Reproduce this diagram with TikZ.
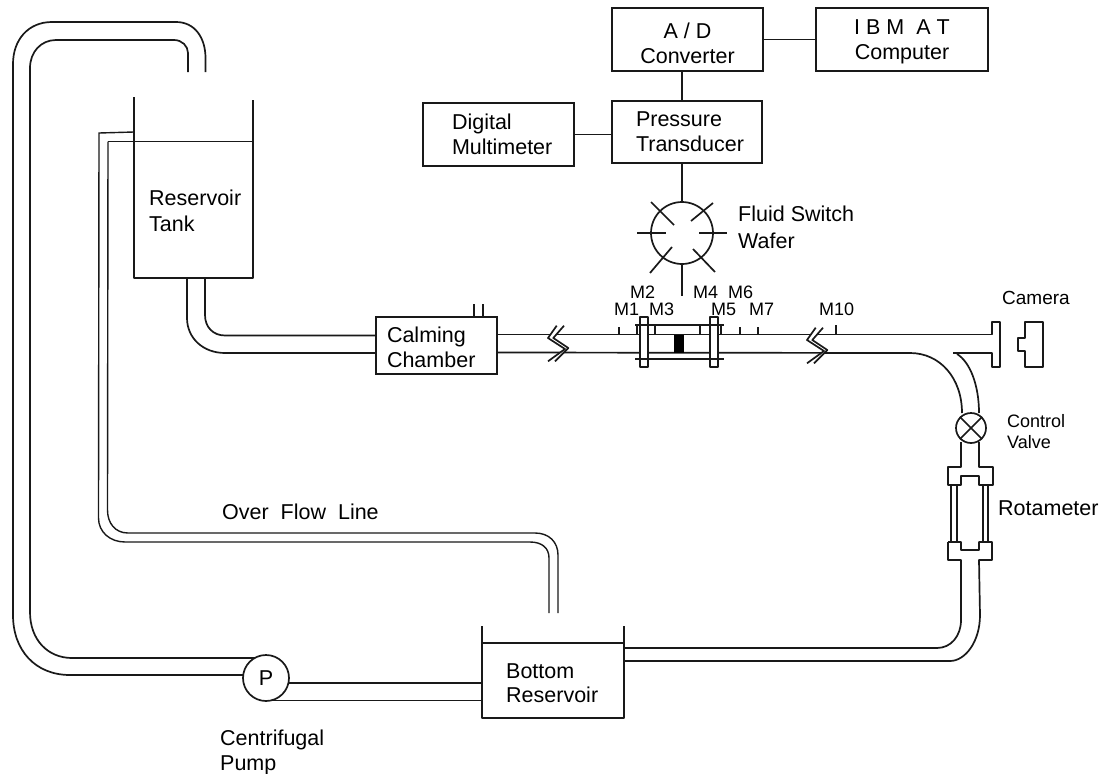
\documentclass[tikz,border=0pt]{standalone}
\usepackage{fontspec}
\setmainfont{Liberation Sans}
\newcommand{\bigtxt}{\fontsize{21.5}{25}\selectfont}
\newcommand{\midtxt}{\fontsize{18}{21}\selectfont}
\newcommand{\pipebreak}[2]{%
  \begin{scope}[shift={(#1,#2)}]
    \fill[white] (8.7,-12.3) -- (0,0) -- (17,11) -- (0,23.3) -- (7,23.3) -- (20.3,10) -- (5.3,0) -- (16,-12.3) -- cycle;
    \draw[pipe] (8.7,-12.3) -- (0,0) -- (17,11) -- (0,23.3);
    \draw[pipe] (16,-12.3) -- (5.3,0) -- (20.3,10) -- (7,23.3);
  \end{scope}}
\tikzset{
  pipe/.style={line width=1.7pt,line join=round,draw=black!90},
  thin pipe/.style={line width=1.4pt,draw=black!90},
  boxed/.style={draw=black!90,line width=1.7pt,fill=white,font=\bigtxt,minimum height=#1,inner ysep=0pt},
  lbl/.style={font=\bigtxt,anchor=base west,inner sep=0pt,align=left},
  mlbl/.style={font=\midtxt,anchor=base west,inner sep=0pt,align=left},
}
\begin{document}
\begin{tikzpicture}[x=1pt,y=-1pt]
\useasboundingbox[fill=white] (0,0) rectangle (1104,774);
% --- instrument boxes
\node[boxed=63pt,minimum width=151pt,align=center] (ad) at (687.5,39.5) {\rule{0pt}{23pt}A / D\\Converter};
\node[boxed=63pt,minimum width=172pt,align=center] (ibm) at (902,39.5) {\rule{0pt}{19pt}I B M~ A T\\Computer};
\node[boxed=62pt,inner xsep=24pt,text width=102pt,align=left] (pt) at (687,132) {Pressure\\Transducer};
\node[boxed=63pt,inner xsep=29pt,text width=93pt,align=left] (dm) at (498.5,134.5) {Digital\\Multimeter};
\node[circle,draw=black!90,line width=1.7pt,minimum size=62pt,inner sep=0pt] (sw) at (682,233) {};
\draw[pipe] (ad) -- (ibm);
\draw[pipe] (ad.south -| sw) -- (pt.north -| sw);
\draw[pipe] (dm.east) -- (dm.east -| pt.west);
\draw[pipe] (pt.south -| sw) -- (sw.north);
\coordinate (swb) at (682,296);
\draw[pipe] (sw.south) -- (swb);
\draw[pipe] (637,233) -- (666,233);
\draw[pipe] (699,233) -- (727,233);
\draw[pipe] (651,202) -- (674,225);
\draw[pipe] (713,203) -- (691,221);
\draw[pipe] (650,273) -- (672,247);
\draw[pipe] (715,272) -- (693,249);
\node[lbl] (fl1) at (738,221) {Fluid Switch};
\node[lbl] (fl2) at (738,248) {Wafer};
% --- reservoir tank
\draw[pipe] (134,97) -- (134,278) -- (253,278) -- (253,100);
\draw[pipe] (108,141.5) -- (253,141.5);
\node[lbl] (rt1) at (149,205) {Reservoir};
\node[lbl] (rt2) at (149,231) {Tank};
% --- return pipe to tank
\draw[pipe] (205.5,72) -- (205.5,58) .. controls (205.5,38) and (195,22) .. (176,22)
  -- (52,22) .. controls (28,22) and (13,40) .. (13,64) -- (13,615)
  .. controls (13,650) and (35,675) .. (70,675) -- (243,675);
\draw[pipe] (188,72) -- (188,53) .. controls (188,46) and (182,40) .. (174,40)
  -- (56,40) .. controls (41,40) and (30,52) .. (30,68) -- (30,612)
  .. controls (30,640) and (48,658) .. (72,658) -- (256,658);
% --- overflow line
\draw[thin pipe] (134,132) -- (99,133) -- (98.5,518) .. controls (98.5,532) and (110,542) .. (125,542) -- (530,542)
  .. controls (542,542) and (549,548) .. (549,558) -- (549,613);
\draw[thin pipe] (108,141.5) -- (107.5,510) .. controls (107.5,523) and (115,533) .. (128,533) -- (535,533)
  .. controls (549,533) and (558,542) .. (558,555) -- (558,613);
\node[lbl] (ofl) at (222,519) {Over\ \ Flow\ \ Line};
% --- pump
\node[circle,draw=black!90,line width=1.7pt,fill=white,minimum size=46pt,inner sep=0pt,font=\bigtxt] (pump) at (266,678) {P};
\draw[pipe] (288.5,683) -- (482,683);
\draw[pipe] (272,700.5) -- (482,700.5);
\node[lbl] (cp1) at (220,745) {Centrifugal};
\node[lbl] (cp2) at (220,770) {Pump};
% --- bottom reservoir
\draw[pipe] (482,626) -- (482,718) -- (624,718) -- (624,626);
\draw[pipe] (482,643) -- (624,643);
\node[lbl] (br1) at (506,678) {Bottom};
\node[lbl] (br2) at (506,702) {Reservoir};
% --- pipe tank to chamber
\draw[pipe] (187,278) -- (187,318) .. controls (187,338) and (203,353) .. (225,353) -- (376,353);
\draw[pipe] (205,278) -- (205,315) .. controls (205,327) and (213,335.5) .. (225,335.5) -- (376,335.5);
% --- calming chamber
\node[boxed=57pt,inner xsep=11pt,text width=99pt,align=left] (cc) at (436.5,345.5) {\rule{0pt}{19.5pt}Calming\\Chamber};
\draw[pipe] (474,304) -- (474,317);
\draw[pipe] (483,304) -- (483,317);
% --- long test pipe
\draw[pipe] (cc.east |- 0,334.5) -- (992,334.5) -- (992,322) -- (1000,322) -- (1000,367) -- (992,367) -- (992,353) -- (953,353);
\draw[pipe] (cc.east |- 0,352.5) -- (910,353) .. controls (940,353) and (962,378) .. (962,413);
\draw[pipe] (957,354) .. controls (970,362) and (979,385) .. (979,413);
\pipebreak{548}{338}
\pipebreak{807}{340}
% --- test section
\draw[pipe,fill=white] (640,317) rectangle (648,367);
\draw[pipe,fill=white] (710,317) rectangle (718,367);
\draw[pipe] (635,325) -- (724,325);
\draw[pipe] (635,359) -- (724,359);
\fill[black] (674,335) rectangle (684,353);
\foreach \tx/\ty in {619/327,637/325,655/325,700/325,721/325,740/327,758/327,836/325}
  \draw[thin pipe] (\tx,\ty) -- (\tx,334.5);
\node[mlbl] (m1) at (614,315) {M1};
\node[mlbl] (m2) at (630,298) {M2};
\node[mlbl] (m3) at (649,315) {M3};
\node[mlbl] (m4) at (693,298) {M4};
\node[mlbl] (m5) at (711,315) {M5};
\node[mlbl] (m6) at (728,298) {M6};
\node[mlbl] (m7) at (749,315) {M7};
\node[mlbl] (m10) at (819,315) {M10};
% --- camera
\draw[pipe] (1025,322) -- (1043,322) -- (1043,367) -- (1025,367) -- (1025,351) -- (1018,351) -- (1018,338) -- (1025,338) -- cycle;
\node[mlbl,font=\fontsize{19}{21}\selectfont] (cam) at (1002,304) {Camera};
% --- valve
\node[circle,draw=black!90,line width=1.7pt,fill=white,minimum size=30pt,inner sep=0pt] (valve) at (971,428) {};
\draw[pipe] (valve.45) -- (valve.225);
\draw[pipe] (valve.135) -- (valve.315);
\node[mlbl] (cv1) at (1007,427) {Control};
\node[mlbl] (cv2) at (1007,448) {Valve};
% --- rotameter
\draw[pipe] (961,442) -- (961,467) -- (948,467) -- (948,485) -- (961,485) -- (961,476) -- (979,476) -- (979,485) -- (993,485) -- (993,467) -- (979,467) -- (979,442);
\draw[thin pipe] (951,485) -- (951,542);
\draw[thin pipe] (957,485) -- (957,542);
\draw[thin pipe] (983,485) -- (983,542);
\draw[thin pipe] (988,485) -- (988,542);
\draw[pipe] (948,542) -- (961,542) -- (961,550) -- (979,550) -- (979,542) -- (992,542) -- (992,560) -- (979,560)
  -- (980,615) .. controls (980,642) and (965,661) .. (950,661) -- (624,661);
\draw[pipe] (948,542) -- (948,560) -- (961,560) -- (961,620) .. controls (961,636) and (951,648) .. (937,648) -- (624,648);
\node[lbl] (rot) at (998,515) {Rotameter};
\end{tikzpicture}
\end{document}
